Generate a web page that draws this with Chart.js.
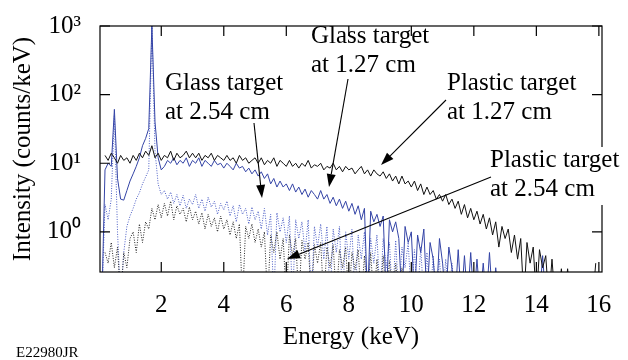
<!DOCTYPE html>
<html lang="en">
<head>
<meta charset="UTF-8">
<title>Intensity vs energy</title>
<script src="https://cdn.jsdelivr.net/npm/chart.js"></script>
<style>
  html, body { margin: 0; padding: 0; background: #fff; }
</style>
</head>
<body>
<canvas id="chart" width="628" height="360"></canvas>
<script>
// energy bins (keV)
const energy = [
  0.1, 0.2, 0.3, 0.4, 0.5, 0.6, 0.7, 0.8, 0.9, 1.0,
  1.1, 1.2, 1.3, 1.4, 1.5, 1.6, 1.7, 1.8, 1.9, 2.0,
  2.1, 2.2, 2.3, 2.4, 2.5, 2.6, 2.7, 2.8, 2.9, 3.0,
  3.1, 3.2, 3.3, 3.4, 3.5, 3.6, 3.7, 3.8, 3.9, 4.0,
  4.1, 4.2, 4.3, 4.4, 4.5, 4.6, 4.7, 4.8, 4.9, 5.0,
  5.1, 5.2, 5.3, 5.4, 5.5, 5.6, 5.7, 5.8, 5.9, 6.0,
  6.1, 6.2, 6.3, 6.4, 6.5, 6.6, 6.7, 6.8, 6.9, 7.0,
  7.1, 7.2, 7.3, 7.4, 7.5, 7.6, 7.7, 7.8, 7.9, 8.0,
  8.1, 8.2, 8.3, 8.4, 8.5, 8.6, 8.7, 8.8, 8.9, 9.0,
  9.1, 9.2, 9.3, 9.4, 9.5, 9.6, 9.7, 9.8, 9.9, 10.0,
  10.1, 10.2, 10.3, 10.4, 10.5, 10.6, 10.7, 10.8, 10.9, 11.0,
  11.1, 11.2, 11.3, 11.4, 11.5, 11.6, 11.7, 11.8, 11.9, 12.0,
  12.1, 12.2, 12.3, 12.4, 12.5, 12.6, 12.7, 12.8, 12.9, 13.0,
  13.1, 13.2, 13.3, 13.4, 13.5, 13.6, 13.7, 13.8, 13.9, 14.0,
  14.1, 14.2, 14.3, 14.4, 14.5, 14.6, 14.7, 14.8, 14.9, 15.0,
  15.1, 15.2, 15.3, 15.4, 15.5, 15.6, 15.7, 15.8, 15.9
];

// counts/keV, 0.1 = empty bin (falls below the axis)
const plastic127 = [
  null, 13, 11, 14, 12, 10, 13, 11, 12, 10,
  13, 11, 14, 12, 15, 13, 18, 12, 14, 11,
  13, 12, 15, 11, 14, 12, 13, 15, 12, 14,
  12, 14, 11, 13, 12, 14, 11, 13, 12, 11,
  13, 11, 12, 10, 13, 11, 12, 10, 11, 12,
  10, 12, 9.5, 11, 10, 12, 9, 11, 10, 9,
  11, 9, 10, 8.5, 10, 9, 11, 8.5, 9.5, 9,
  10, 8, 9, 8.5, 10, 8, 9, 7.5, 9, 8,
  8.5, 7, 8, 9, 7, 8, 6.5, 8, 7, 6.5,
  7.5, 6, 7, 5.5, 6.5, 5, 6.5, 5, 5.5, 4.5,
  5.5, 4, 5, 3.5, 4.5, 3.5, 4, 3, 3.5, 2.8,
  3.5, 2.5, 3, 2.2, 2.8, 1.8, 2.5, 1.6, 2.2, 1.5,
  2, 1.3, 1.8, 1.1, 1.6, 0.9, 1.4, 0.6, 1.2, 0.8,
  1.1, 0.5, 0.9, 0.4, 0.8, 0.1, 0.7, 0.35, 0.6, 0.1,
  0.55, 0.3, 0.45, 0.1, 0.4, 0.1, 0.1, 0.29, 0.1, 0.29,
  0.1, 0.1, 0.1, 0.1, 0.1, 0.1, 0.1, 0.1, 0.35
];

const glass127 = [
  0.1, 8, 10, 9, 61, 6, 3, 2.9, 4, 5.5,
  7, 9, 12, 18, 23, 32, 1000, 40, 12, 8,
  9, 11, 10, 12, 9.5, 11, 10, 12, 9, 11,
  10, 12, 9, 11, 10, 9, 11, 9.5, 10, 8.5,
  10, 9, 8, 10, 8.5, 9, 7.5, 8.5, 7, 8,
  6.5, 7.5, 6, 7, 5, 6, 4.5, 5.5, 4.5, 5,
  4, 5, 3.8, 4.5, 3.5, 4.2, 3.2, 4, 3.5, 3,
  4, 3, 3.5, 2.6, 3.2, 2.4, 3, 2.2, 2.8, 2,
  2.6, 1.8, 2.4, 1.5, 2.2, 0.1, 2, 1.4, 1.8, 1.2,
  1.7, 0.1, 1.5, 1, 1.4, 0.8, 0.1, 1.2, 0.7, 1,
  0.1, 0.9, 0.5, 1.1, 0.1, 0.7, 0.4, 0.1, 0.8, 0.35,
  0.1, 0.6, 0.3, 0.1, 0.55, 0.1, 0.45, 0.1, 0.5, 0.1,
  0.4, 0.1, 0.35, 0.1, 0.5, 0.1, 0.3, 0.1, 0.1, 0.1,
  0.1, 0.1, 0.1, 0.1, 0.1, 0.1, 0.1, 0.1, 0.1, 0.1,
  0.1, 0.45, 0.1
];

const glass254 = [
  0.1, 2.5, 1.5, 3, 50, 1, 0.1, 0.5, 1.2, 1.7,
  2.2, 3, 3.7, 5, 6.3, 8, 1000, 15, 5, 3.5,
  4, 3, 3.8, 2.6, 3.5, 2.4, 3.4, 2.2, 3, 2.5,
  3.5, 2.2, 3, 2, 3.2, 2.3, 2.8, 1.8, 2.6, 2.1,
  2.8, 1.7, 2.4, 1.4, 2.5, 1.8, 2.2, 1.3, 2.3, 1.5,
  2, 1.1, 2.2, 0.9, 1.8, 0.1, 1.9, 1, 1.6, 0.7,
  1.7, 0.1, 1.5, 0.8, 1.4, 0.5, 1.5, 0.1, 1.2, 0.6,
  1.3, 0.4, 1.2, 0.1, 1.1, 0.5, 1.2, 0.1, 1, 0.4,
  1.1, 0.1, 0.9, 0.4, 1, 0.1, 0.8, 0.35, 0.9, 0.1,
  0.8, 0.3, 0.7, 0.1, 0.75, 0.1, 0.6, 0.3, 0.7, 0.1,
  0.55, 0.1, 0.6, 0.1, 0.5, 0.1, 0.45, 0.1, 0.4, 0.1,
  0.4, 0.1, 0.35, 0.1, 0.1
];

const plastic254 = [
  null, 0.5, 0.35, 0.7, 0.3, 0.6, 0.1, 0.5, 0.3, 0.8,
  1, 0.5, 1.3, 0.7, 1.4, 1.1, 2.2, 1.5, 2.5, 1.6,
  2.6, 1.7, 2.8, 1.5, 2.4, 1.8, 2.2, 1.4, 2.3, 1.5,
  2, 1.3, 1.9, 1.1, 1.8, 1.2, 1.6, 1, 1.7, 1.1,
  1.5, 0.9, 1.4, 0.8, 1.3, 0.1, 1.2, 0.8, 1.3, 0.7,
  1.1, 0.6, 1, 0.1, 0.9, 0.5, 1, 0.4, 0.8, 0.1,
  0.9, 0.45, 0.8, 0.1, 0.75, 0.4, 0.7, 0.1, 0.65, 0.35,
  0.7, 0.1, 0.6, 0.3, 0.65, 0.1, 0.55, 0.3, 0.6, 0.1,
  0.5, 0.28, 0.55, 0.1, 0.45, 0.1, 0.5, 0.1, 0.4, 0.1,
  0.45, 0.1, 0.38, 0.1, 0.35, 0.1, 0.3, 0.1, 0.1, 0.1
];

const xTicks = [2, 4, 6, 8, 10, 12, 14, 16];
const yTicks = [1, 10, 100, 1000];
const yTickLabels = { 1: '10⁰', 10: '10¹', 100: '10²', 1000: '10³' };

const serif = "'Liberation Serif', 'Times New Roman', serif";
const blue = '#3444a6';

function points(values) {
  return values.map((v, i) => ({ x: energy[i], y: v }));
}

// callouts: text lines, text position, arrow from -> to
const notes = [
  { lines: ['Glass target', 'at 1.27 cm'], x: 311, y: 43, from: [348, 79], to: [329, 187] },
  { lines: ['Plastic target', 'at 1.27 cm'], x: 447, y: 90, from: [446, 100], to: [381, 165] },
  { lines: ['Glass target', 'at 2.54 cm'], x: 165, y: 90, from: [254, 123], to: [262, 198] },
  { lines: ['Plastic target', 'at 2.54 cm'], x: 490, y: 167, from: [491, 177], to: [287, 259], blank: true }
];

function arrow(ctx, from, to) {
  const ang = Math.atan2(to[1] - from[1], to[0] - from[0]);
  const len = 13, half = 4.5;
  const bx = to[0] - len * Math.cos(ang), by = to[1] - len * Math.sin(ang);
  ctx.beginPath();
  ctx.moveTo(from[0], from[1]);
  ctx.lineTo(bx, by);
  ctx.stroke();
  ctx.beginPath();
  ctx.moveTo(to[0], to[1]);
  ctx.lineTo(bx + half * Math.sin(ang), by - half * Math.cos(ang));
  ctx.lineTo(bx - half * Math.sin(ang), by + half * Math.cos(ang));
  ctx.closePath();
  ctx.fill();
}

const framePlugin = {
  id: 'frame',
  afterDatasetsDraw(chart) {
    const { ctx, chartArea: a, scales: { x, y } } = chart;
    ctx.save();
    ctx.strokeStyle = '#000';
    ctx.fillStyle = '#000';
    ctx.lineWidth = 1.2;
    ctx.strokeRect(a.left, a.top, a.right - a.left, a.bottom - a.top);
    ctx.beginPath();
    xTicks.forEach(v => {
      const px = x.getPixelForValue(v);
      ctx.moveTo(px, a.bottom); ctx.lineTo(px, a.bottom - 10);
      ctx.moveTo(px, a.top); ctx.lineTo(px, a.top + 10);
    });
    yTicks.forEach(v => {
      const py = y.getPixelForValue(v);
      ctx.moveTo(a.left, py); ctx.lineTo(a.left + 10, py);
      ctx.moveTo(a.right, py); ctx.lineTo(a.right - 10, py);
    });
    ctx.stroke();

    ctx.font = '25px ' + serif;
    ctx.textBaseline = 'alphabetic';
    ctx.textAlign = 'left';
    ctx.lineWidth = 1.1;
    notes.forEach(n => {
      if (n.blank) {
        ctx.fillStyle = '#fff';
        ctx.fillRect(n.x - 4, n.y - 20, 628 - n.x + 4, 58);
        ctx.fillStyle = '#000';
      }
      n.lines.forEach((t, i) => ctx.fillText(t, n.x, n.y + i * 29));
      arrow(ctx, n.from, n.to);
    });

    ctx.font = '15px ' + serif;
    ctx.fillText('E22980JR', 16, 357);
    ctx.restore();
  }
};

new Chart(document.getElementById('chart'), {
  type: 'line',
  data: {
    datasets: [
      { label: 'Plastic target at 1.27 cm', data: points(plastic127), borderColor: '#111', borderWidth: 1 },
      { label: 'Glass target at 1.27 cm', data: points(glass127), borderColor: blue, borderWidth: 1 },
      { label: 'Plastic target at 2.54 cm', data: points(plastic254), borderColor: '#222', borderWidth: 1, borderDash: [1, 1.5] },
      { label: 'Glass target at 2.54 cm', data: points(glass254), borderColor: '#4a5cc4', borderWidth: 1, borderDash: [1, 1.5] }
    ]
  },
  options: {
    responsive: false,
    animation: false,
    layout: { padding: { top: 18, right: 26, bottom: 4, left: 0 } },
    elements: { point: { radius: 0 }, line: { tension: 0 } },
    plugins: { legend: { display: false }, tooltip: { enabled: false } },
    scales: {
      x: {
        type: 'linear',
        min: 0.04,
        max: 16.1,
        grid: { display: false },
        border: { display: false },
        afterBuildTicks: s => { s.ticks = xTicks.map(v => ({ value: v })); },
        afterFit: s => { s.height = 84; },
        ticks: { color: '#000', padding: 10, maxRotation: 0, font: { family: serif, size: 25 } },
        title: { display: true, text: 'Energy (keV)', color: '#000', padding: { top: 4, bottom: 4 }, font: { family: serif, size: 25 } }
      },
      y: {
        type: 'logarithmic',
        min: 0.26,
        max: 1000,
        grid: { display: false },
        border: { display: false },
        afterBuildTicks: s => { s.ticks = yTicks.map(v => ({ value: v })); },
        afterFit: s => { s.width = 100; },
        ticks: {
          color: '#000', padding: 11, font: { family: serif, size: 25 },
          callback: v => yTickLabels[v] || ''
        },
        title: { display: true, text: 'Intensity (counts/keV)', color: '#000', padding: { top: 8, bottom: 0 }, font: { family: serif, size: 25 } }
      }
    }
  },
  plugins: [framePlugin]
});
</script>
</body>
</html>
